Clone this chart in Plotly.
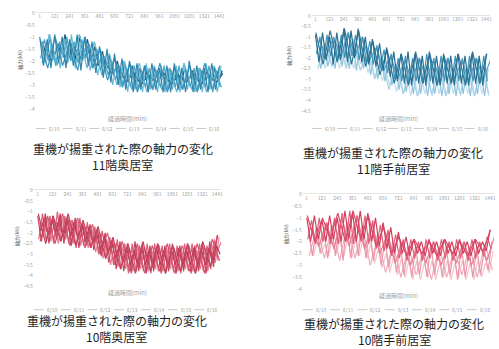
import plotly.graph_objects as go

# ---------------- data ----------------
# 経過時間 (min): each series was logged on its own clock offset
TIME_A = list(range(1, 1442, 30))
TIME_B = list(range(9, 1450, 30))
TIME_C = list(range(16, 1457, 30))
TIME_D = list(range(24, 1465, 30))
TIME_E = list(range(5, 1446, 60))
TIME_F = list(range(20, 1461, 60))
TIME_G = list(range(35, 1476, 60))
XTICKS = list(range(1, 1442, 120))       # 1, 121, ..., 1441
SERIES_NAMES = ["6/10", "6/11", "6/12", "6/13", "6/14", "6/15", "6/16"]

# 11階奥居室
TL_A = [-1.0, -2.2, -1.1, -2.3, -0.9, -2.1, -1.0,
        -2.3, -1.1, -2.2, -0.9, -2.4, -1.0, -2.2,
        -1.2, -2.5, -1.4, -2.7, -1.5, -2.9, -1.7,
        -3.0, -1.9, -3.2, -2.0, -3.3, -2.1, -3.2,
        -2.2, -3.3, -2.1, -3.2, -2.3, -3.3, -2.2,
        -3.3, -2.1, -3.2, -2.3, -3.3, -2.0, -3.3,
        -2.2, -3.2, -2.3, -3.3, -2.1, -3.2, -2.3]
TL_B = [-1.9, -1.1, -2.0, -1.3, -2.2, -1.2, -1.8,
        -1.0, -2.0, -1.2, -2.1, -1.1, -1.9, -1.3,
        -2.3, -1.5, -2.4, -1.8, -2.6, -2.0, -2.8,
        -2.2, -3.0, -2.3, -3.1, -2.2, -3.2, -2.4,
        -3.1, -2.3, -3.2, -2.4, -3.1, -2.2, -3.2,
        -2.4, -3.1, -2.2, -3.2, -2.4, -3.1, -2.3,
        -3.2, -2.4, -3.1, -2.2, -3.3, -2.4, -3.1]
TL_C = [-1.3, -2.1, -0.9, -2.0, -1.4, -2.3, -1.1,
        -2.1, -0.9, -2.3, -1.2, -2.0, -1.4, -2.4,
        -1.6, -2.6, -1.8, -2.5, -1.9, -3.0, -2.1,
        -3.1, -2.0, -3.3, -2.2, -3.2, -2.3, -3.3,
        -2.1, -3.2, -2.4, -3.3, -2.2, -3.3, -2.4,
        -3.2, -2.2, -3.3, -2.1, -3.2, -2.4, -3.3,
        -2.3, -3.3, -2.1, -3.2, -2.4, -3.3, -2.2]
TL_D = [-1.2, -1.8, -1.0, -1.9, -1.3, -1.7, -0.9,
        -1.9, -1.2, -2.0, -1.0, -1.8, -1.1, -2.0,
        -1.4, -2.2, -1.6, -2.4, -1.8, -2.6, -2.0,
        -2.8, -2.1, -2.9, -2.2, -3.0, -2.3, -2.9,
        -2.4, -3.0, -2.3, -2.9, -2.4, -3.0, -2.3,
        -2.9, -2.4, -3.0, -2.3, -2.9, -2.4, -3.0,
        -2.3, -2.9, -2.4, -3.0, -2.3, -2.9, -2.4]
TL_E = [-1.1, -2.3, -1.0, -2.2, -1.2, -2.4, -1.0, -2.3, -1.5, -2.8, -1.9, -3.1, -2.1,
        -3.3, -2.2, -3.2, -2.1, -3.3, -2.3, -3.2, -2.2, -3.3, -2.1, -3.2, -2.2]
TL_F = [-2.1, -0.9, -2.2, -1.1, -2.0, -0.9, -2.3, -1.2, -2.6, -1.7, -3.0, -2.0, -3.2,
        -2.1, -3.3, -2.2, -3.2, -2.3, -3.3, -2.1, -3.2, -2.3, -3.3, -2.2, -3.1]
TL_G = [-1.5, -2.0, -1.3, -2.1, -1.4, -1.9, -1.6, -2.2, -1.9, -2.5, -2.3, -2.9, -2.5,
        -3.0, -2.6, -2.9, -2.5, -3.0, -2.6, -2.9, -2.5, -3.0, -2.6, -2.9, -2.5]

# 11階手前居室
TR_A = [-0.9, -2.2, -0.8, -2.1, -1.0, -2.3, -0.8,
        -2.1, -0.6, -2.2, -0.7, -2.0, -0.6, -2.2,
        -1.0, -2.3, -1.1, -2.4, -1.3, -2.6, -1.5,
        -2.9, -1.7, -3.1, -1.8, -3.2, -1.7, -3.3,
        -1.8, -3.2, -1.9, -3.3, -1.7, -3.2, -1.9,
        -3.3, -1.8, -3.2, -1.9, -3.3, -1.8, -3.2,
        -1.9, -3.3, -1.8, -3.2, -1.9, -3.3, -1.8]
TR_B = [-1.8, -1.0, -2.0, -0.9, -1.9, -1.1, -2.1,
        -0.9, -2.0, -0.8, -1.9, -0.9, -2.1, -1.0,
        -2.2, -1.2, -2.3, -1.4, -2.5, -1.6, -2.7,
        -1.8, -3.0, -2.0, -3.1, -1.9, -3.2, -2.0,
        -3.1, -2.0, -3.2, -1.8, -3.1, -2.0, -3.3,
        -1.9, -3.1, -2.0, -3.2, -1.9, -3.1, -2.0,
        -3.2, -1.9, -3.1, -2.0, -3.2, -1.9, -3.1]
TR_C = [-1.5, -2.5, -1.4, -2.4, -1.6, -2.5, -1.3,
        -2.4, -1.2, -2.5, -1.1, -2.6, -1.3, -2.5,
        -1.6, -2.8, -1.8, -3.0, -2.0, -3.1, -2.2,
        -3.3, -2.3, -3.5, -2.4, -3.6, -2.5, -3.7,
        -2.4, -3.7, -2.6, -3.8, -2.5, -3.7, -2.6,
        -3.8, -2.5, -3.7, -2.6, -3.8, -2.4, -3.7,
        -2.6, -3.8, -2.5, -3.7, -2.6, -3.8, -2.5]
TR_D = [-2.0, -1.6, -2.5, -1.8, -2.4, -1.7, -2.5,
        -1.6, -2.4, -1.8, -2.5, -1.7, -2.3, -1.9,
        -2.7, -2.1, -2.9, -2.3, -3.1, -2.5, -3.3,
        -2.7, -3.6, -2.8, -3.7, -2.9, -3.8, -2.8,
        -3.8, -2.9, -3.7, -2.8, -3.8, -2.9, -3.7,
        -2.8, -3.8, -2.9, -3.7, -2.8, -3.8, -2.9,
        -3.7, -2.8, -3.8, -2.9, -3.7, -2.8, -3.8]
TR_E = [-0.8, -2.3, -0.7, -2.2, -0.6, -2.3, -0.7, -2.4, -1.2, -2.8, -1.6, -3.2, -1.8,
        -3.3, -1.7, -3.2, -1.8, -3.3, -1.9, -3.2, -1.8, -3.3, -1.7, -3.2, -1.8]
TR_F = [-2.5, -1.3, -2.4, -1.2, -2.5, -1.1, -2.6, -1.5, -3.0, -2.0, -3.5, -2.3, -3.7,
        -2.4, -3.8, -2.5, -3.7, -2.4, -3.8, -2.6, -3.7, -2.5, -3.8, -2.4, -3.7]
TR_G = [-1.2, -1.9, -1.0, -2.0, -0.8, -1.9, -1.0, -2.1, -1.5, -2.6, -1.9, -3.0, -2.1,
        -3.1, -2.0, -3.0, -2.1, -3.1, -2.0, -3.0, -2.1, -3.1, -2.0, -3.0, -2.1]

# 10階奥居室
BL_A = [-1.2, -2.4, -1.1, -2.5, -1.2, -2.3, -1.1,
        -2.5, -1.2, -2.6, -1.3, -2.7, -1.5, -2.6,
        -1.6, -2.8, -1.8, -3.1, -2.0, -3.4, -2.3,
        -3.7, -2.4, -3.8, -2.5, -3.9, -2.4, -3.8,
        -2.5, -3.9, -2.6, -3.8, -2.5, -3.9, -2.6,
        -3.8, -2.5, -3.9, -2.6, -3.8, -2.5, -3.9,
        -2.6, -3.8, -2.5, -3.9, -2.4, -3.6, -2.1]
BL_B = [-2.3, -1.1, -2.4, -1.2, -2.5, -1.0, -2.4,
        -1.2, -2.5, -1.4, -2.7, -1.3, -2.6, -1.5,
        -2.7, -1.7, -3.0, -1.9, -3.2, -2.2, -3.5,
        -2.3, -3.7, -2.5, -3.9, -2.5, -3.8, -2.6,
        -3.8, -2.5, -3.9, -2.5, -3.8, -2.6, -3.9,
        -2.5, -3.8, -2.6, -3.9, -2.5, -3.8, -2.5,
        -3.9, -2.5, -3.8, -2.6, -3.7, -2.3, -3.3]
BL_C = [-1.5, -2.2, -1.3, -2.4, -1.4, -2.5, -1.3,
        -2.3, -1.4, -2.5, -1.5, -2.6, -1.7, -2.7,
        -1.8, -2.9, -2.1, -3.2, -2.3, -3.5, -2.5,
        -3.6, -2.6, -3.7, -2.7, -3.8, -2.6, -3.7,
        -2.7, -3.8, -2.8, -3.7, -2.6, -3.8, -2.7,
        -3.7, -2.7, -3.8, -2.8, -3.7, -2.6, -3.8,
        -2.8, -3.7, -2.6, -3.8, -2.5, -3.4, -2.2]
BL_D = [-1.9, -1.3, -2.1, -1.4, -2.0, -1.3, -2.2,
        -1.4, -2.2, -1.5, -2.3, -1.6, -2.4, -1.7,
        -2.5, -2.0, -2.8, -2.2, -3.0, -2.4, -3.2,
        -2.6, -3.4, -2.7, -3.5, -2.8, -3.6, -2.7,
        -3.5, -2.8, -3.6, -2.7, -3.5, -2.8, -3.6,
        -2.8, -3.5, -2.7, -3.6, -2.8, -3.5, -2.7,
        -3.6, -2.8, -3.5, -2.7, -3.4, -2.6, -3.0]
BL_E = [-1.1, -2.5, -1.2, -2.4, -1.1, -2.6, -1.4, -2.7, -1.7, -3.2, -2.2, -3.7, -2.5,
        -3.9, -2.4, -3.8, -2.5, -3.9, -2.6, -3.8, -2.5, -3.9, -2.4, -3.6, -2.1]
BL_F = [-2.4, -1.2, -2.5, -1.1, -2.6, -1.3, -2.7, -1.6, -3.0, -2.0, -3.5, -2.4, -3.8,
        -2.5, -3.9, -2.6, -3.8, -2.5, -3.9, -2.6, -3.8, -2.5, -3.9, -2.3, -3.3]
BL_G = [-1.6, -2.1, -1.5, -2.2, -1.4, -2.3, -1.7, -2.4, -2.0, -2.8, -2.5, -3.3, -2.8,
        -3.5, -2.9, -3.4, -2.8, -3.5, -2.9, -3.4, -2.8, -3.5, -2.7, -3.2, -2.4]

# 10階手前居室
BR_A = [-1.0, -2.0, -0.9, -1.9, -1.1, -2.0, -0.9,
        -1.9, -1.0, -2.0, -0.7, -1.9, -0.8, -2.0,
        -0.7, -1.9, -0.8, -2.0, -1.0, -2.2, -1.2,
        -2.3, -1.4, -2.5, -1.6, -2.5, -1.8, -2.6,
        -1.9, -2.5, -2.0, -2.6, -1.9, -2.5, -2.0,
        -2.6, -1.9, -2.5, -2.0, -2.6, -1.9, -2.5,
        -2.0, -2.6, -1.9, -2.5, -2.0, -2.4, -1.5]
BR_B = [-1.9, -1.1, -2.1, -1.0, -2.0, -1.2, -2.1,
        -1.0, -2.1, -0.8, -2.0, -0.7, -2.1, -0.9,
        -2.0, -0.9, -2.1, -1.1, -2.3, -1.3, -2.4,
        -1.5, -2.6, -1.7, -2.7, -1.9, -2.8, -1.9,
        -2.7, -2.0, -2.8, -1.9, -2.7, -2.0, -2.8,
        -1.9, -2.7, -2.0, -2.8, -1.9, -2.7, -2.0,
        -2.8, -1.9, -2.7, -2.0, -2.6, -1.8, -2.3]
BR_C = [-1.5, -2.6, -1.4, -2.5, -1.6, -2.7, -1.3,
        -2.6, -1.4, -2.8, -1.2, -2.7, -1.3, -2.6,
        -1.3, -2.7, -1.5, -2.8, -1.7, -3.0, -1.9,
        -3.1, -2.0, -3.3, -2.1, -3.4, -2.2, -3.5,
        -2.2, -3.4, -2.3, -3.5, -2.1, -3.4, -2.3,
        -3.5, -2.2, -3.4, -2.3, -3.6, -2.2, -3.5,
        -2.3, -3.5, -2.2, -3.4, -2.3, -3.2, -2.0]
BR_D = [-2.0, -2.6, -1.9, -2.5, -2.1, -2.6, -1.8,
        -2.5, -1.9, -2.6, -1.8, -2.7, -1.9, -2.6,
        -1.9, -2.7, -2.1, -2.9, -2.3, -3.1, -2.5,
        -3.3, -2.6, -3.4, -2.7, -3.5, -2.8, -3.6,
        -2.8, -3.6, -2.9, -3.5, -2.8, -3.6, -2.9,
        -3.5, -2.8, -3.6, -2.9, -3.5, -2.8, -3.6,
        -2.9, -3.6, -2.8, -3.5, -2.9, -3.3, -2.4]
BR_E = [-0.9, -2.0, -1.0, -1.9, -0.8, -2.0, -0.7, -1.9, -0.9, -2.2, -1.4, -2.5, -1.8,
        -2.6, -1.9, -2.5, -2.0, -2.6, -1.9, -2.5, -2.0, -2.6, -1.9, -2.4, -1.5]
BR_F = [-2.6, -1.4, -2.7, -1.3, -2.8, -1.2, -2.7, -1.4, -3.0, -1.8, -3.3, -2.1, -3.5,
        -2.2, -3.4, -2.3, -3.6, -2.2, -3.5, -2.3, -3.4, -2.2, -3.5, -2.1, -3.2]
BR_G = [-1.4, -2.2, -1.2, -2.3, -1.0, -2.2, -0.9, -2.3, -1.3, -2.5, -1.7, -2.9, -2.0,
        -3.0, -2.1, -2.9, -2.0, -3.0, -2.1, -2.9, -2.0, -3.0, -2.1, -2.8, -1.8]

TITLE_MAIN = "重機が揚重された際の軸力の変化"
ROOMS = ["11階奥居室", "11階手前居室", "10階奥居室", "10階手前居室"]
XTITLE = "経過時間(min)"
YTITLE = "軸力(kN)"

# ---------------- styling / layout ----------------
W, H = 499, 349
FONT = "Noto Sans CJK JP"
GREY = "#a0a0a0"


def px(x):
    return x / W


def py(y):
    return 1 - y / H


panels = [
    dict(series=[(TIME_G, TL_G), (TIME_D, TL_D), (TIME_F, TL_F), (TIME_B, TL_B),
                 (TIME_C, TL_C), (TIME_E, TL_E), (TIME_A, TL_A)],
         colors=["#1f5a78", "#1d5a78", "#62b6d4", "#4aa6c8", "#6bbad6", "#3a93b8", "#2f86ad"],
         xdom=(36, 224), ytop=9, ybot=107, ymin=-4.0,
         xt=(128, 117), lg=127, yt=(20, 57),
         t1=(123, 147), t2=(123, 164)),
    dict(series=[(TIME_D, TR_D), (TIME_F, TR_F), (TIME_C, TR_C), (TIME_G, TR_G),
                 (TIME_B, TR_B), (TIME_E, TR_E), (TIME_A, TR_A)],
         colors=["#c3dfee", "#a9d2e6", "#8fc4de", "#4b9ec2", "#3f95bb", "#2f7799", "#2a6e90"],
         xdom=(313, 492), ytop=12, ybot=109, ymin=-4.5,
         xt=(400, 117), lg=127, yt=(290, 53),
         t1=(395, 152), t2=(395, 168)),
    dict(series=[(TIME_C, BL_C), (TIME_G, BL_G), (TIME_B, BL_B), (TIME_F, BL_F),
                 (TIME_D, BL_D), (TIME_E, BL_E), (TIME_A, BL_A)],
         colors=["#e27f95", "#de7088", "#d9607a", "#d45672", "#b3354f", "#c24059", "#c9445f"],
         xdom=(34, 222), ytop=190, ybot=288, ymin=-4.5,
         xt=(128, 294), lg=312, yt=(17, 237),
         t1=(117, 323), t2=(117, 339)),
    dict(series=[(TIME_D, BR_D), (TIME_F, BR_F), (TIME_C, BR_C), (TIME_G, BR_G),
                 (TIME_B, BR_B), (TIME_E, BR_E), (TIME_A, BR_A)],
         colors=["#f4c4cf", "#efadbc", "#eb98aa", "#e57a91", "#e0607c", "#d84a68", "#d23f5e"],
         xdom=(304, 496), ytop=194, ybot=291, ymin=-4.0,
         xt=(400, 297), lg=312, yt=(287, 235),
         t1=(396, 326), t2=(396, 342)),
]

fig = go.Figure()
annotations = []
shapes = []
layout_extra = {}

for k, p in enumerate(panels):
    n = "" if k == 0 else str(k + 1)
    xa, ya = "x" + n, "y" + n
    for s, ((tt, vals), col) in enumerate(zip(p["series"], p["colors"])):
        fig.add_trace(go.Scatter(
            x=tt, y=vals, mode="lines", name=SERIES_NAMES[s],
            line=dict(color=col, width=1.2),
            xaxis=xa, yaxis=ya, showlegend=False, hoverinfo="skip"))
    layout_extra["xaxis" + n] = dict(
        domain=[px(p["xdom"][0]), px(p["xdom"][1])], anchor=ya, side="top",
        range=[-30, 1472], tickvals=XTICKS, ticktext=[str(v) for v in XTICKS],
        ticklabelposition="inside", ticklabeloverflow="allow",
        tickfont=dict(size=5, color=GREY, family=FONT), showgrid=False,
        zeroline=False, showline=True, linecolor="#e4e4e4", linewidth=1,
        ticks="", fixedrange=True)
    layout_extra["yaxis" + n] = dict(
        domain=[py(p["ybot"]), py(p["ytop"])], anchor=xa,
        range=[p["ymin"], 0.001],
        tickvals=[v / 2 for v in range(0, int(p["ymin"] * 2) - 1, -1)],
        ticklabeloverflow="allow",
        tickfont=dict(size=5, color=GREY, family=FONT), showgrid=False,
        zeroline=False, showline=False, ticks="", fixedrange=True)
    # hand-drawn legend row (line sample + label per series)
    x0, x1 = p["xdom"]
    step = (x1 - x0) / len(SERIES_NAMES)
    for s, name in enumerate(SERIES_NAMES):
        lx = x0 + s * step
        shapes.append(dict(type="line", xref="paper", yref="paper",
                           x0=px(lx), x1=px(lx + 10), y0=py(p["lg"]), y1=py(p["lg"]),
                           line=dict(color="#c8c8c8", width=1)))
        annotations.append(dict(text=name, x=px(lx + 11), y=py(p["lg"]),
                                xref="paper", yref="paper", showarrow=False,
                                xanchor="left", yanchor="middle",
                                font=dict(size=5, color=GREY, family=FONT)))
    common = dict(xref="paper", yref="paper", showarrow=False,
                  xanchor="center", yanchor="middle")
    annotations.append(dict(text=XTITLE, x=px(p["xt"][0]), y=py(p["xt"][1]),
                            font=dict(size=6, color=GREY, family=FONT), **common))
    annotations.append(dict(text=YTITLE, x=px(p["yt"][0]), y=py(p["yt"][1]),
                            textangle=-90,
                            font=dict(size=5, color="#666", family=FONT), **common))
    annotations.append(dict(text=TITLE_MAIN, x=px(p["t1"][0]), y=py(p["t1"][1]),
                            font=dict(size=12, color="#1e1e1e", family=FONT), **common))
    annotations.append(dict(text=ROOMS[k], x=px(p["t2"][0]), y=py(p["t2"][1]),
                            font=dict(size=12, color="#1e1e1e", family=FONT), **common))

fig.update_layout(
    width=W, height=H, margin=dict(l=0, r=0, t=0, b=0),
    paper_bgcolor="white", plot_bgcolor="white", showlegend=False,
    hovermode=False,
    annotations=annotations, shapes=shapes, **layout_extra)

fig.write_html("out.html", config={"displayModeBar": False},
               post_script="document.body.style.margin='0px';"
                           "document.body.style.overflow='hidden';")
